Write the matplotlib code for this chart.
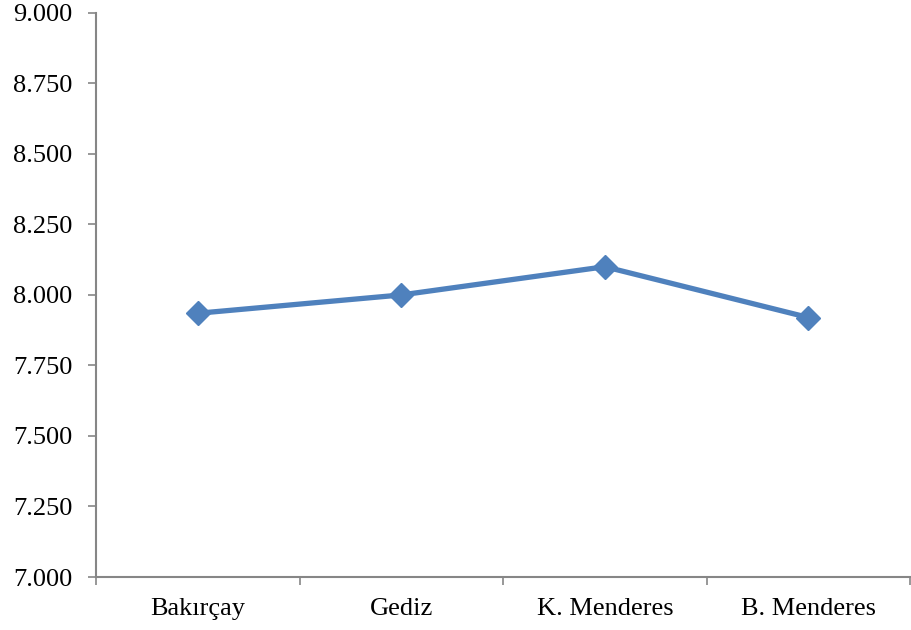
import matplotlib
matplotlib.use("Agg")
import matplotlib.pyplot as plt
from matplotlib.ticker import FixedLocator, FuncFormatter

categories = ["Bakırçay", "Gediz", "K. Menderes", "B. Menderes"]
values = [7.935, 8.000, 8.100, 7.920]
y_ticks = [7.000, 7.250, 7.500, 7.750, 8.000, 8.250, 8.500, 8.750, 9.000]

plt.rcParams["font.family"] = ["Liberation Serif", "DejaVu Serif"]

fig = plt.figure(figsize=(9.11, 6.30), dpi=100)
ax = fig.add_axes([0.1054, 0.0841, 0.8936, 0.8955])

x = list(range(len(categories)))
ax.plot(x, values, color="#4F81BD", linewidth=3.8, marker="D",
        markersize=12, markerfacecolor="#4F81BD", markeredgecolor="#4F81BD",
        solid_joinstyle="miter", zorder=3)

ax.set_xlim(-0.5, len(categories) - 0.5)
ax.set_ylim(7.0, 9.0)
ax.yaxis.set_major_locator(FixedLocator(y_ticks))
ax.yaxis.set_major_formatter(FuncFormatter(lambda v, p: f"{v:.3f}"))

ax.set_xticks([i - 0.5 for i in range(len(categories) + 1)])
ax.set_xticklabels([])
ax.set_xticks(x, minor=True)
ax.set_xticklabels(categories, minor=True)
ax.tick_params(axis="x", which="minor", length=0, pad=15, labelsize=19)
ax.tick_params(axis="x", which="major", length=6, width=1.2, color="#868686", direction="out")
ax.tick_params(axis="y", length=6, width=1.2, color="#868686", direction="out",
               pad=11, labelsize=19)

for side in ["top", "right"]:
    ax.spines[side].set_visible(False)
for side in ["left", "bottom"]:
    ax.spines[side].set_color("#868686")
    ax.spines[side].set_linewidth(1.5)

fig.savefig("out.png", dpi=100)
